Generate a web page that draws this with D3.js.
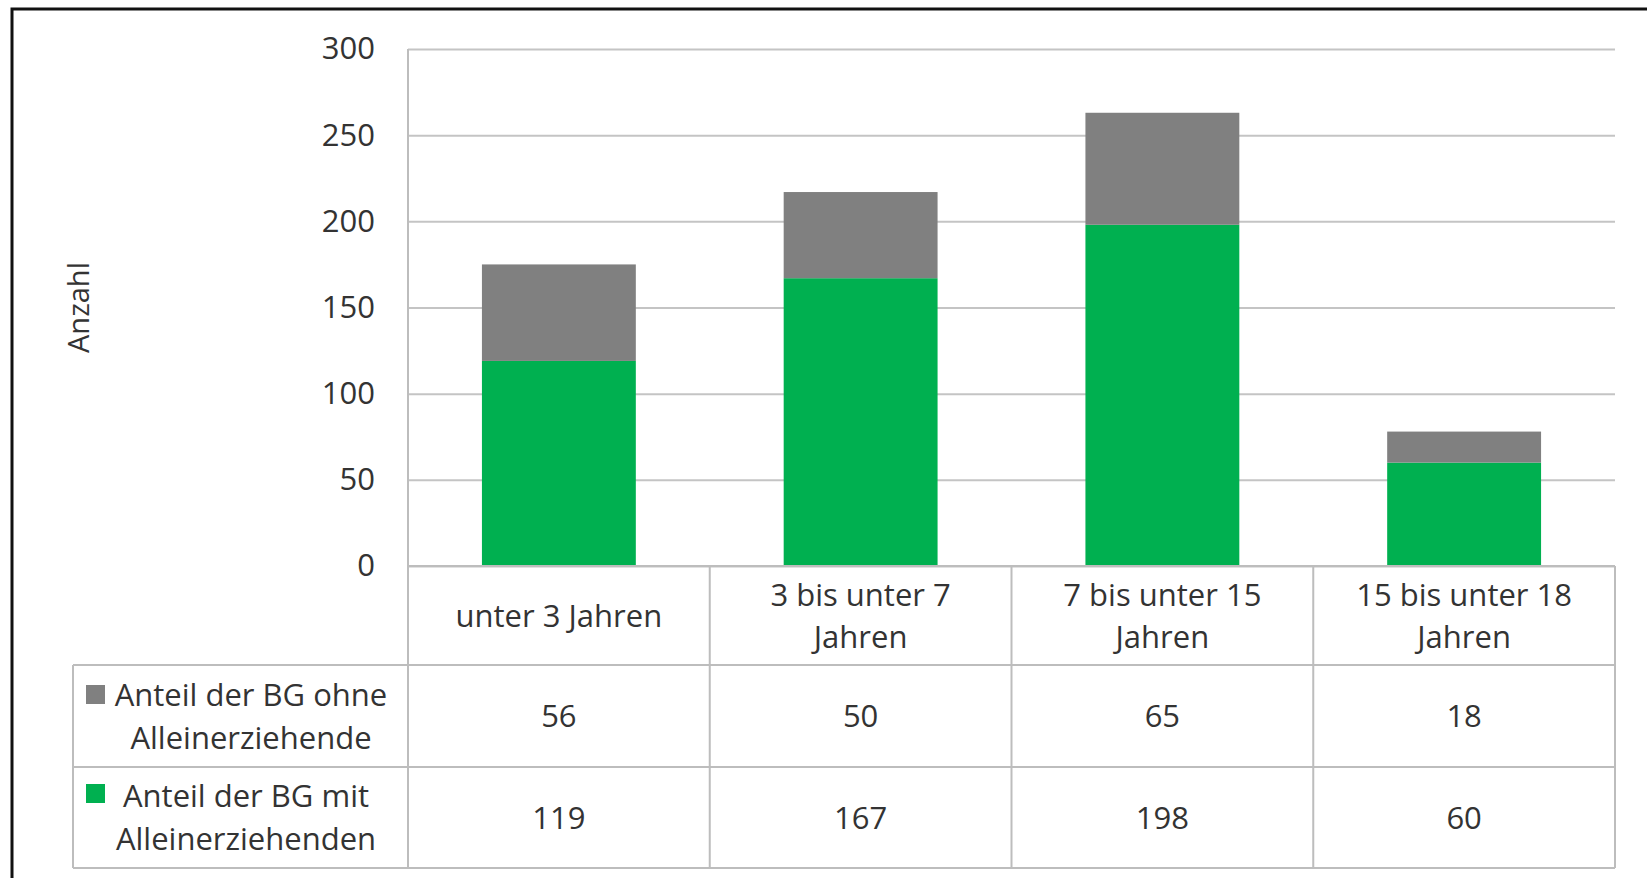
<!DOCTYPE html>
<html>
<head>
<meta charset="utf-8">
<script src="https://cdn.jsdelivr.net/npm/d3@7"></script>
<style>
  html, body { margin: 0; padding: 0; background: #fff; }
  svg { display: block; }
  text { font-family: "Open Sans", "Noto Sans", sans-serif; fill: #333; }
</style>
</head>
<body>
<svg id="chart" width="1647" height="878"></svg>
<script>
// Age groups of children (x categories)
const categories = ["unter 3 Jahren", "3 bis unter 7 Jahren", "7 bis unter 15 Jahren", "15 bis unter 18 Jahren"];
// Header lines as shown in the data table
const categoryLines = [["unter 3 Jahren"], ["3 bis unter 7", "Jahren"], ["7 bis unter 15", "Jahren"], ["15 bis unter 18", "Jahren"]];
// Series values
const withSingleParents = [119, 167, 198, 60];      // Anteil der BG mit Alleinerziehenden
const withoutSingleParents = [56, 50, 65, 18];      // Anteil der BG ohne Alleinerziehende
const seriesNames = [["Anteil der BG ohne", "Alleinerziehende"], ["Anteil der BG mit", "Alleinerziehenden"]];
const yTicks = [0, 50, 100, 150, 200, 250, 300];
const yTitle = "Anzahl";

const COLORS = { mit: "#00b050", ohne: "#808080", grid: "#c4c4c4", table: "#bdbdbd" };

const svg = d3.select("#chart");

// Plot geometry
const plot = { left: 408, right: 1615, top: 49, bottom: 566 };
const tableRows = [566, 665, 767, 868];
const legendLeft = 73;

const x = d3.scaleBand().domain(categories).range([plot.left, plot.right]).padding(0);
const xBar = d3.scaleBand().domain(categories).range([plot.left, plot.right])
  .paddingInner(0.49).paddingOuter(0.245);
const y = d3.scaleLinear().domain([0, 300]).range([plot.bottom, plot.top]);

// Outer frame (top and left edges visible)
svg.append("path").attr("d", "M12,878 L12,9 L1647,9")
  .attr("fill", "none").attr("stroke", "#111").attr("stroke-width", 3);

// Gridlines
svg.append("g")
  .attr("transform", `translate(${plot.left},0)`)
  .call(d3.axisLeft(y).tickValues(yTicks).tickSize(-(plot.right - plot.left)).tickFormat(""))
  .call(g => g.select(".domain").remove())
  .call(g => g.selectAll("line").attr("stroke", COLORS.grid).attr("stroke-width", 2));

// Y tick labels
svg.append("g")
  .attr("transform", `translate(${plot.left},0)`)
  .call(d3.axisLeft(y).tickValues(yTicks).tickSize(0).tickPadding(33))
  .call(g => g.select(".domain").remove())
  .call(g => g.selectAll("text").attr("font-size", 31).attr("fill", "#333")
    .attr("font-family", "'Open Sans', sans-serif"));

// Y axis title
svg.append("text")
  .attr("transform", `translate(89,${(plot.top + plot.bottom) / 2}) rotate(-90)`)
  .attr("text-anchor", "middle")
  .attr("font-size", 29)
  .text(yTitle);

// Stacked bars
const stackData = categories.map((c, i) => ({ cat: c, mit: withSingleParents[i], ohne: withoutSingleParents[i] }));
const stacked = d3.stack().keys(["mit", "ohne"])(stackData);
svg.append("g").selectAll("g")
  .data(stacked).join("g")
  .attr("fill", d => COLORS[d.key])
  .selectAll("rect")
  .data(d => d).join("rect")
  .attr("x", d => xBar(d.data.cat))
  .attr("width", xBar.bandwidth())
  .attr("y", d => y(d[1]))
  .attr("height", d => y(d[0]) - y(d[1]));

// Data table grid
const tbl = svg.append("g").attr("stroke", COLORS.table).attr("stroke-width", 2).attr("fill", "none");
// horizontal rules
tableRows.forEach((ry, i) => {
  tbl.append("line")
    .attr("x1", i === 0 ? plot.left : legendLeft).attr("x2", plot.right)
    .attr("y1", ry).attr("y2", ry);
});
// vertical axis line from top of plot to bottom of table
tbl.append("line").attr("x1", plot.left).attr("x2", plot.left).attr("y1", plot.top).attr("y2", tableRows[3]);
// column separators and right edge
categories.forEach(c => {
  const xr = x(c) + x.bandwidth();
  tbl.append("line").attr("x1", xr).attr("x2", xr).attr("y1", tableRows[0]).attr("y2", tableRows[3]);
});
// legend column left edge
tbl.append("line").attr("x1", legendLeft).attr("x2", legendLeft).attr("y1", tableRows[1]).attr("y2", tableRows[3]);

// Header row text
const hdr = svg.append("g").attr("font-size", 31).attr("text-anchor", "middle");
categories.forEach((c, i) => {
  const lines = categoryLines[i];
  const cx = x(c) + x.bandwidth() / 2;
  const mid = (tableRows[0] + tableRows[1]) / 2;
  const lh = 42;
  lines.forEach((ln, j) => {
    hdr.append("text")
      .attr("x", cx)
      .attr("y", mid + (j - (lines.length - 1) / 2) * lh + 11)
      .text(ln);
  });
});

// Value rows
const rowSeries = [withoutSingleParents, withSingleParents];
const rowColors = [COLORS.ohne, COLORS.mit];
rowSeries.forEach((vals, r) => {
  const top = tableRows[r + 1], bot = tableRows[r + 2];
  const mid = (top + bot) / 2;
  svg.append("g").attr("font-size", 31).attr("text-anchor", "middle")
    .selectAll("text").data(vals).join("text")
    .attr("x", (d, i) => x(categories[i]) + x.bandwidth() / 2)
    .attr("y", mid + 11)
    .text(d => d);

  // legend key + series name
  svg.append("rect")
    .attr("x", 86).attr("y", top + (r === 0 ? 20 : 17))
    .attr("width", 19).attr("height", 19)
    .attr("fill", rowColors[r]);
  const cxL = r === 0 ? 251 : 246;
  seriesNames[r].forEach((ln, j) => {
    svg.append("text")
      .attr("x", cxL)
      .attr("y", mid + (j - 0.5) * 43 + 11)
      .attr("font-size", 31)
      .attr("text-anchor", "middle")
      .text(ln);
  });
});
</script>
</body>
</html>
